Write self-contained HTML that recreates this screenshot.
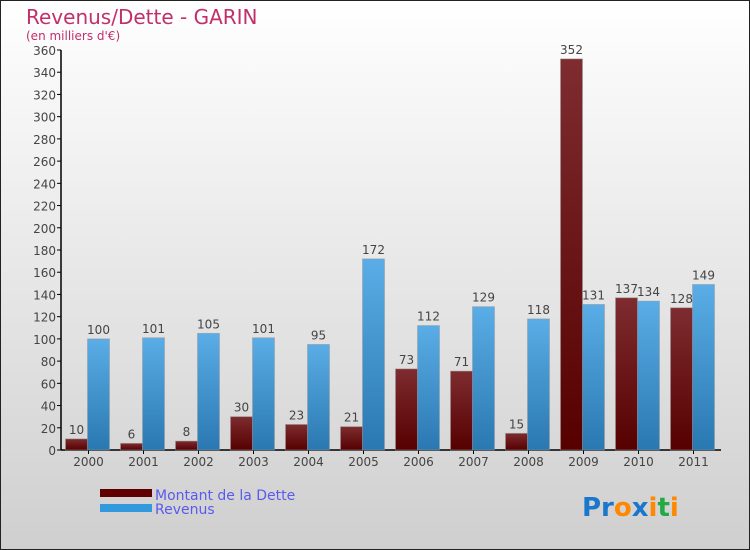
<!DOCTYPE html>
<html><head><meta charset="utf-8"><style>
body{margin:0}
svg{display:block;font-family:"DejaVu Sans","Liberation Sans",sans-serif}
</style></head><body>
<svg width="750" height="550" viewBox="0 0 750 550">
<defs>
<linearGradient id="bg" x1="0" y1="0" x2="0" y2="1"><stop offset="0" stop-color="#ffffff"/><stop offset="1" stop-color="#cfcfcf"/></linearGradient>
<linearGradient id="gd" x1="0" y1="0" x2="0" y2="1"><stop offset="0" stop-color="#7e2c30"/><stop offset="1" stop-color="#560000"/></linearGradient>
<linearGradient id="gr" x1="0" y1="0" x2="0" y2="1"><stop offset="0" stop-color="#5aade6"/><stop offset="1" stop-color="#2a78b2"/></linearGradient>
</defs>
<rect x="0.5" y="0.5" width="749" height="549" fill="url(#bg)" stroke="#222"/>
<text x="26" y="24" font-size="20" fill="#c0306a">Revenus/Dette - GARIN</text>
<text x="26" y="40" font-size="12" fill="#c0306a">(en milliers d'€)</text>
<g id="axes"></g>
<g id="bars"></g>
<g>
<rect x="100" y="489" width="52" height="8" fill="#600000"/>
<text x="155" y="500" font-size="14" fill="#5a5aee">Montant de la Dette</text>
<rect x="100" y="504" width="52" height="8" fill="#3399dd"/>
<text x="155" y="514" font-size="14" fill="#5a5aee">Revenus</text>
</g>
<g font-size="26" font-weight="bold">
<text x="582" y="516"><tspan fill="#1a77cc">Pr</tspan><tspan fill="#ff8800">o</tspan><tspan fill="#1a77cc">x</tspan><tspan fill="#ff8800">i</tspan><tspan fill="#22aa44">t</tspan><tspan fill="#ff8800">i</tspan></text>
</g>
</svg>
<script>
const years=["2000","2001","2002","2003","2004","2005","2006","2007","2008","2009","2010","2011"];
const debt=[10,6,8,30,23,21,73,71,15,352,137,128];
const revenue=[100,101,105,101,95,172,112,129,118,131,134,149];
const yTicks=[0,20,40,60,80,100,120,140,160,180,200,220,240,260,280,300,320,340,360];
const NS="http://www.w3.org/2000/svg";
const x0=61,x1=721,y0=450,y1=50,ymax=360;
const gw=(x1-x0)/years.length;
function Y(v){return y0-(v/ymax)*(y0-y1);}
function mk(tag,attrs,parent){const e=document.createElementNS(NS,tag);for(const k in attrs)e.setAttribute(k,attrs[k]);parent.appendChild(e);return e;}
const ax=document.getElementById('axes'),bg=document.getElementById('bars');
yTicks.forEach(t=>{
 const l=mk('line',{x1:x0-4,x2:x0,y1:Y(t),y2:Y(t),stroke:'#000'},ax);
 
 
 const tx=mk('text',{x:x0-5,y:Y(t)+5,'text-anchor':'end','font-size':'12',fill:'#444'},ax);
 tx.textContent=t;
 
 
});
const ya=mk('line',{x1:x0,x2:x0,y1:y1,y2:y0,stroke:'#000','stroke-width':1.5},ax);


const xa=mk('line',{x1:x0,x2:x1,y1:y0,y2:y0,stroke:'#000','stroke-width':1.5},ax);


years.forEach((yr,i)=>{
 const gx=x0+i*gw, c=gx+gw/2;
 const tk=mk('line',{x1:c,x2:c,y1:y0,y2:y0+4,stroke:'#000'},ax);
 
 
 const tl=mk('text',{x:c,y:y0+16,'text-anchor':'middle','font-size':'12',fill:'#444'},ax);
 tl.textContent=yr;
 
 
 [[debt[i],'url(#gd)',gx+4.5,'bar-debt-'+yr],[revenue[i],'url(#gr)',gx+26.5,'bar-revenue-'+yr]].forEach(([v,f,bx,nm])=>{
  const r=mk('rect',{x:bx,y:Y(v),width:22,height:y0-Y(v),fill:f,stroke:'rgba(150,150,150,0.6)','stroke-width':0.8},bg);
  
  
  const vt=mk('text',{x:bx+11,y:Y(v)-5,'text-anchor':'middle','font-size':'12',fill:'#444'},bg);
  vt.textContent=v;
  
  
 });
});
</script>
</body></html>
